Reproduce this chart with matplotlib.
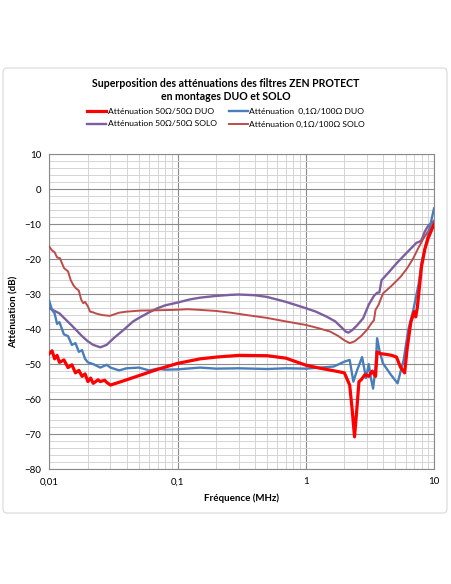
import matplotlib
matplotlib.use("Agg")
import matplotlib.pyplot as plt
from matplotlib.patches import FancyBboxPatch
from matplotlib.ticker import FixedLocator, FixedFormatter, MultipleLocator

plt.rcParams['font.family'] = ['Lato', 'DejaVu Sans']

# Atténuation 50/50 DUO
red_f = [0.01, 0.0105, 0.011, 0.0115, 0.012, 0.013, 0.014, 0.015, 0.016, 0.017, 0.018, 0.019, 0.02, 0.021,
         0.022, 0.024, 0.025, 0.027, 0.028, 0.03, 0.04, 0.05, 0.07, 0.1, 0.15, 0.2, 0.3, 0.5, 0.7, 1.0,
         1.3, 1.6, 2.0, 2.2, 2.3, 2.4, 2.5, 2.6, 2.7, 2.9, 3.1, 3.3, 3.5, 3.6, 3.8, 4.2, 4.7, 5.1, 5.5,
         5.9, 6.2, 6.6, 7.0, 7.2, 7.4, 7.6, 8.0, 8.5, 9.0, 10]
red_db = [-47, -46.2, -48.5, -47.5, -49.5, -48.8, -51, -50.2, -52.5, -51.8, -53.5, -52.8, -55, -54,
          -55.5, -54.5, -55, -54.6, -55.2, -56, -54.5, -53.3, -51.5, -49.8, -48.5, -48, -47.5, -47.6, -48.3, -50.3,
          -51.2, -51.8, -52.5, -56, -63, -70.8, -63, -55, -54.5, -53, -53.5, -52, -53.5, -46.5, -47, -47.2,
          -47.5, -48, -51, -52.5, -45, -38, -35, -36.5, -34, -30, -22, -17, -14, -10]

# Atténuation 0,1/100 DUO
blue_f = [0.01, 0.0105, 0.011, 0.0115, 0.012, 0.013, 0.014, 0.015, 0.016, 0.017, 0.018, 0.019, 0.02, 0.022,
          0.025, 0.028, 0.03, 0.035, 0.04, 0.05, 0.06, 0.07, 0.08, 0.1, 0.15, 0.2, 0.3, 0.5, 0.7, 1.0,
          1.3, 1.65, 2.0, 2.2, 2.35, 2.5, 2.75, 2.95, 3.1, 3.2, 3.35, 3.5, 3.6, 3.75, 4.0, 4.6, 5.2,
          5.5, 5.8, 6.3, 6.9, 7.6, 8.0, 9.0, 10]
blue_db = [-32, -34.5, -35.5, -38.5, -38, -41.5, -42, -44.5, -44, -46.5, -46, -48.5, -49.5, -50,
           -51, -50.2, -51, -51.8, -51.2, -51, -51.8, -51.3, -51.6, -51.5, -51, -51.3, -51.2, -51.4, -51.2, -51.3,
           -51, -50.7, -49.3, -48.8, -55, -52, -48, -54, -50, -53.5, -57, -51, -42.6, -46, -49.8, -53, -55.5,
           -52, -48.8, -40.2, -34.5, -27, -21, -13, -5.5]

# Atténuation 50/50 SOLO
pur_f = [0.01, 0.012, 0.015, 0.018, 0.02, 0.022, 0.025, 0.028, 0.032, 0.038, 0.045, 0.05, 0.06, 0.07, 0.08,
         0.1, 0.125, 0.15, 0.2, 0.26, 0.3, 0.4, 0.5, 0.7, 1.0, 1.2, 1.45, 1.7, 1.9, 2.05, 2.15, 2.3, 2.5,
         2.8, 3.1, 3.4, 3.6, 3.75, 3.9, 4.5, 5.1, 6.0, 7.3, 7.7, 8.0, 8.5, 9.0, 10]
pur_db = [-34, -35.5, -39, -42, -43.5, -44.5, -45.2, -44.5, -42.5, -40.2, -37.8, -36.8, -35.2, -34, -33.2,
          -32.4, -31.5, -31, -30.5, -30.2, -30.1, -30.3, -30.8, -32.2, -34, -35, -36.4, -37.8, -39.5, -40.7,
          -41, -40.3, -39, -36.9, -33, -30.5, -29.6, -29.5, -26, -23.5, -21.2, -18.5, -15.3, -15, -14.5,
          -12, -10.5, -9]

# Atténuation 0,1/100 SOLO
brn_f = [0.01, 0.0105, 0.011, 0.0115, 0.0121, 0.013, 0.014, 0.0147, 0.0154, 0.016, 0.017, 0.0177, 0.0184,
         0.019, 0.02, 0.0208, 0.022, 0.023, 0.026, 0.0297, 0.035, 0.04, 0.051, 0.07, 0.093, 0.12, 0.15, 0.2,
         0.26, 0.35, 0.5, 0.7, 1.0, 1.25, 1.55, 1.8, 2.0, 2.2, 2.4, 2.7, 3.0, 3.3, 3.4, 3.5, 3.7, 4.0, 4.7,
         5.5, 6.2, 6.9, 7.5, 8.3, 9.0, 10]
brn_db = [-16.4, -17.5, -18, -19.5, -19.7, -22.5, -23.5, -26, -27.4, -28.2, -29, -31.5, -32.6, -32.2, -33.5,
          -35, -35.2, -35.5, -36, -36.2, -35.3, -35, -34.7, -34.6, -34.5, -34.3, -34.5, -34.8, -35.3, -36,
          -36.8, -37.8, -38.8, -39.7, -40.7, -42, -43.2, -44, -43.5, -42, -40.2, -38, -37.5, -34.5, -33,
          -29.8, -27.5, -25, -22.5, -19.7, -17, -14, -12, -9.7]

labels = ["Atténuation 50Ω/50Ω DUO", "Atténuation  0,1Ω/100Ω DUO",
          "Atténuation 50Ω/50Ω SOLO", "Atténuation 0,1Ω/100Ω SOLO"]
x_ticks = [0.01, 0.1, 1, 10]
x_tick_labels = ["0,01", "0,1", "1", "10"]

fig = plt.figure(figsize=(4.52, 5.84), dpi=100)
W, H = 452, 584

# cadre du graphique
box = FancyBboxPatch((3 / W, 1 - 513 / H), 444 / W, 445 / H, boxstyle="round,pad=0,rounding_size=0.008",
                     transform=fig.transFigure, facecolor="white", edgecolor="#d9d9d9", linewidth=0.8,
                     zorder=-10)
fig.patches.append(box)

ax = fig.add_axes([49.3 / W, 1 - 469 / H, (434 - 49.3) / W, (469 - 154.3) / H])
ax.set_zorder(2)
ax.set_xscale('log')
ax.set_xlim(0.01, 10)
ax.set_ylim(-80, 10)

l1, = ax.plot(red_f, red_db, color='#ff0000', lw=2.3, zorder=5)
l2, = ax.plot(blue_f, blue_db, color='#4a7ebb', lw=1.7, zorder=4)
l3, = ax.plot(pur_f, pur_db, color='#7d5fa0', lw=1.7, zorder=3)
l4, = ax.plot(brn_f, brn_db, color='#be4b48', lw=1.4, zorder=3)

ax.xaxis.set_major_locator(FixedLocator(x_ticks))
ax.xaxis.set_major_formatter(FixedFormatter(x_tick_labels))
ax.yaxis.set_major_locator(MultipleLocator(10))
ax.yaxis.set_minor_locator(MultipleLocator(2))
ax.grid(which='major', color='#8a8a8a', lw=0.8)
ax.grid(which='minor', color='#d4d4d4', lw=0.7)
ax.set_axisbelow(True)
ax.tick_params(which='both', length=0, labelsize=7, pad=6)
for s in ax.spines.values():
    s.set_color('#8a8a8a')
    s.set_linewidth(0.8)

ax.set_xlabel("Fréquence (MHz)", fontsize=7, fontweight='bold', labelpad=5)
ax.set_ylabel("Atténuation (dB)", fontsize=7, fontweight='bold', labelpad=4)

fig.text(0.5, 1 - 90 / H, "Superposition des atténuations des filtres ZEN PROTECT\nen montages DUO et SOLO",
         ha='center', va='center', fontsize=7.6, fontweight='bold', linespacing=1.3)

# ordre colonne par colonne pour obtenir DUO sur la première ligne
fig.legend([l1, l3, l2, l4], [labels[0], labels[2], labels[1], labels[3]], ncol=2, loc='center',
           bbox_to_anchor=(0.5, 1 - 118 / H), frameon=False, fontsize=6.1, handlelength=2.3,
           handletextpad=0.15, columnspacing=1.4, labelspacing=0.6)

plt.savefig('out.png', dpi=100)
